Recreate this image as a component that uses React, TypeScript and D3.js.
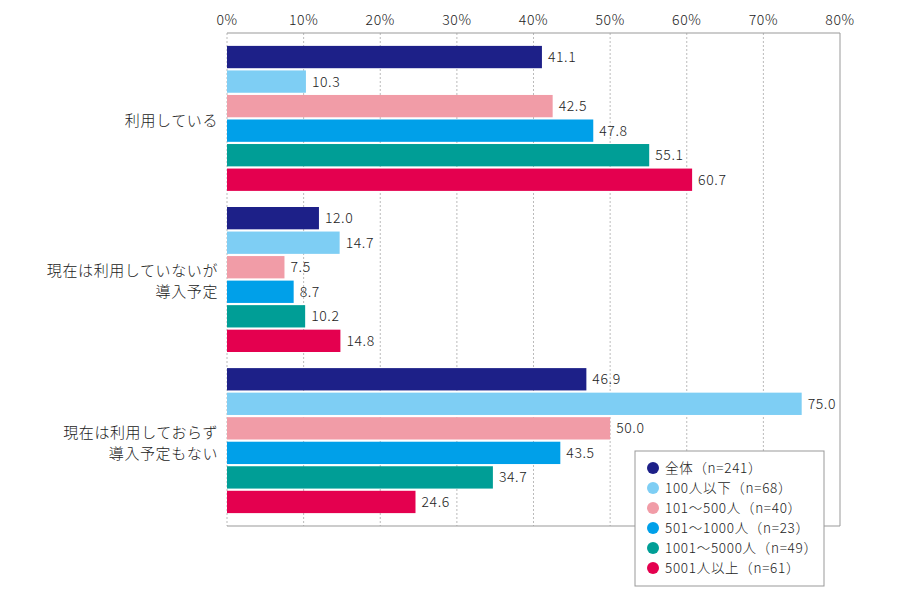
import { useEffect, useRef } from 'react'
import * as d3 from 'd3'

const categories = [['利用している'], ['現在は利用していないが', '導入予定'], ['現在は利用しておらず', '導入予定もない']]
const seriesNames = ['全体（n=241）', '100人以下（n=68）', '101～500人（n=40）', '501～1000人（n=23）', '1001～5000人（n=49）', '5001人以上（n=61）']
const seriesColors = ['#1d2088', '#7ecef4', '#f19ca7', '#00a0e9', '#009e96', '#e4004f']
const values = [
  [41.1, 10.3, 42.5, 47.8, 55.1, 60.7],
  [12.0, 14.7, 7.5, 8.7, 10.2, 14.8],
  [46.9, 75.0, 50.0, 43.5, 34.7, 24.6],
]
const ticks = [0, 10, 20, 30, 40, 50, 60, 70, 80]

const W = 900
const H = 600
const FONT = '"Noto Sans CJK JP", "Noto Sans", sans-serif'

export default function App() {
  const svgRef = useRef<SVGSVGElement>(null)

  useEffect(() => {
    if (!svgRef.current) return
    const svg = d3.select(svgRef.current)
    svg.selectAll('*').remove()

    const left = 227
    const right = 840
    const top = 33
    const bottom = 526

    const x = d3.scaleLinear().domain([0, 80]).range([left, right])
    const y0 = d3.scaleBand<number>().domain(d3.range(categories.length)).range([top, bottom]).paddingInner(0.1).paddingOuter(0.08)
    const y1 = d3.scaleBand<number>().domain(d3.range(seriesNames.length)).range([0, y0.bandwidth()]).paddingInner(0.09)

    svg.append('rect').attr('width', W).attr('height', H).attr('fill', '#fff')

    // grid
    svg.append('g').selectAll('line').data(ticks.slice(0, -1)).join('line')
      .attr('x1', d => x(d)).attr('x2', d => x(d))
      .attr('y1', top).attr('y2', bottom)
      .attr('stroke', '#bbb').attr('stroke-width', 1).attr('stroke-dasharray', '2,2')

    // frame
    svg.append('path')
      .attr('d', `M${left},${top}H${right}V${bottom}H${left}`)
      .attr('fill', 'none').attr('stroke', '#999').attr('stroke-width', 1)

    // tick labels
    svg.append('g').selectAll('text').data(ticks).join('text')
      .attr('x', d => x(d)).attr('y', 25)
      .attr('text-anchor', 'middle')
      .attr('font-family', FONT).attr('font-size', 14).attr('font-weight', 300).attr('fill', '#222')
      .attr('letter-spacing', 0.6)
      .text(d => `${d}%`)

    // bars
    const groups = svg.append('g').selectAll('g').data(values).join('g')
      .attr('transform', (_, i) => `translate(0,${y0(i)})`)

    groups.selectAll('rect').data(d => d).join('rect')
      .attr('x', x(0))
      .attr('y', (_, j) => y1(j)!)
      .attr('width', d => x(d) - x(0))
      .attr('height', y1.bandwidth())
      .attr('fill', (_, j) => seriesColors[j])

    groups.selectAll('text').data(d => d).join('text')
      .attr('x', d => x(d) + 6)
      .attr('y', (_, j) => y1(j)! + y1.bandwidth() / 2)
      .attr('dy', '0.36em')
      .attr('font-family', FONT).attr('font-size', 14).attr('font-weight', 300).attr('fill', '#222')
      .attr('letter-spacing', 0.6)
      .text(d => d.toFixed(1))

    // category labels
    categories.forEach((lines, i) => {
      const cy = y0(i)! + y0.bandwidth() / 2 + 2
      const t = svg.append('text')
        .attr('text-anchor', 'end')
        .attr('font-family', FONT).attr('font-size', 15).attr('font-weight', 300).attr('fill', '#222')
        .attr('letter-spacing', 0.6)
      lines.forEach((line, k) => {
        t.append('tspan')
          .attr('x', 218)
          .attr('y', cy + (k - (lines.length - 1) / 2) * 21)
          .attr('dy', '0.36em')
          .text(line)
      })
    })

    // legend
    const lg = svg.append('g').attr('transform', 'translate(635,451)')
    lg.append('rect').attr('width', 189).attr('height', 135)
      .attr('fill', '#fff').attr('stroke', '#999').attr('stroke-width', 1)
    const items = lg.selectAll('g').data(seriesNames).join('g')
      .attr('transform', (_, i) => `translate(0,${17 + i * 20})`)
    items.append('circle').attr('cx', 18).attr('cy', 0).attr('r', 6)
      .attr('fill', (_, i) => seriesColors[i])
    items.append('text').attr('x', 30).attr('dy', '0.36em')
      .attr('font-family', FONT).attr('font-size', 13.5).attr('font-weight', 300).attr('fill', '#222')
      .attr('letter-spacing', 0.7)
      .text(d => d)
  }, [])

  return <svg ref={svgRef} width={W} height={H} style={{ display: 'block', margin: -8 }} />
}
